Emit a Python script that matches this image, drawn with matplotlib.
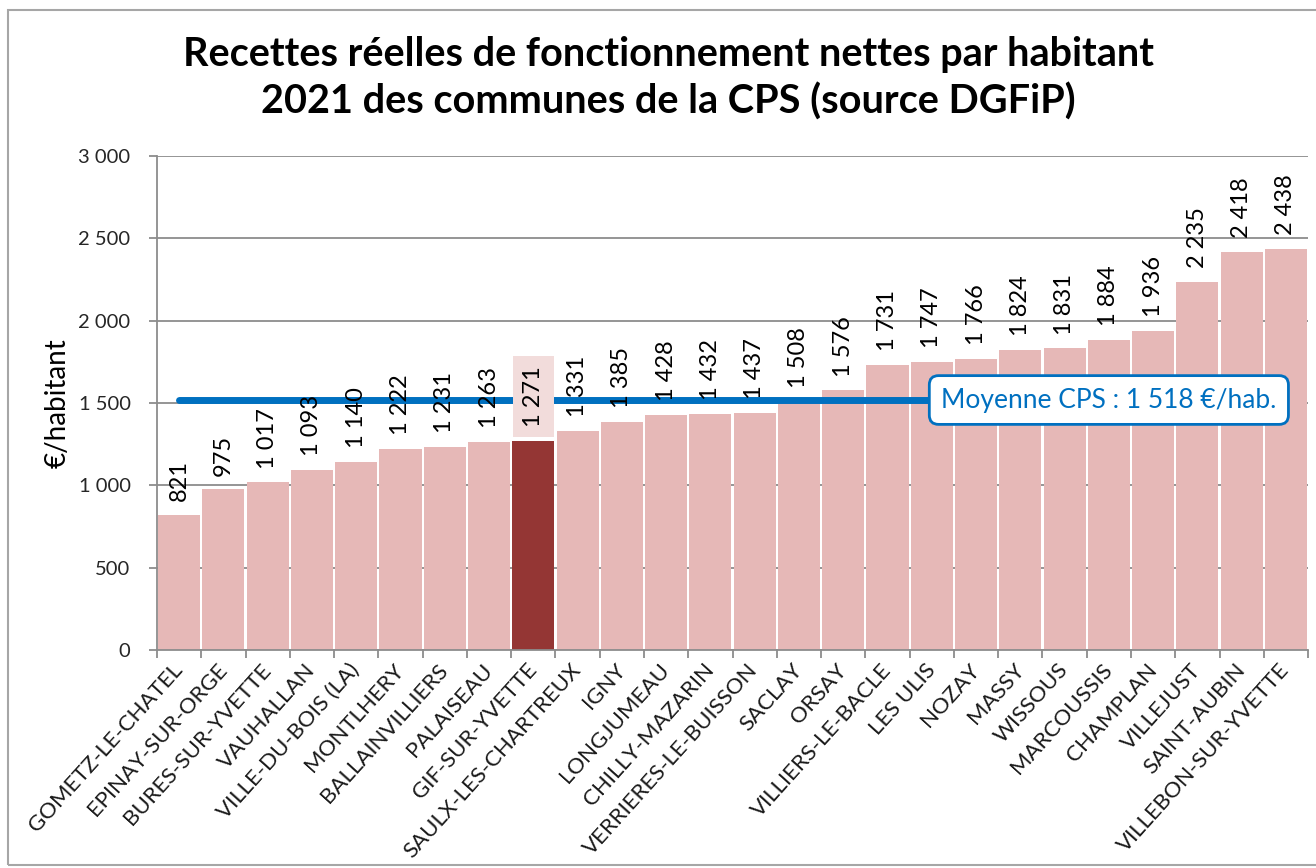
import matplotlib.pyplot as plt
from matplotlib.patches import Rectangle

# data
communes = ['GOMETZ-LE-CHATEL', 'EPINAY-SUR-ORGE', 'BURES-SUR-YVETTE', 'VAUHALLAN',
            'VILLE-DU-BOIS (LA)', 'MONTLHERY', 'BALLAINVILLIERS', 'PALAISEAU',
            'GIF-SUR-YVETTE', 'SAULX-LES-CHARTREUX', 'IGNY', 'LONGJUMEAU',
            'CHILLY-MAZARIN', 'VERRIERES-LE-BUISSON', 'SACLAY', 'ORSAY',
            'VILLIERS-LE-BACLE', 'LES ULIS', 'NOZAY', 'MASSY', 'WISSOUS',
            'MARCOUSSIS', 'CHAMPLAN', 'VILLEJUST', 'SAINT-AUBIN', 'VILLEBON-SUR-YVETTE']
recettes = [821, 975, 1017, 1093, 1140, 1222, 1231, 1263, 1271, 1331, 1385, 1428,
            1432, 1437, 1508, 1576, 1731, 1747, 1766, 1824, 1831, 1884, 1936,
            2235, 2418, 2438]
highlight = 'GIF-SUR-YVETTE'
moyenne = 1518
yticks = [0, 500, 1000, 1500, 2000, 2500, 3000]

plt.rcParams['font.family'] = ['Lato', 'DejaVu Sans']

def fmt(v):
  return '{:,}'.format(v).replace(',', ' ')

fig = plt.figure(figsize=(13.16, 8.68), dpi=100)
ax = fig.add_axes([0.1193, 0.2512, 0.8747, 0.5691])

colors = ['#943634' if c == highlight else '#e6b8b7' for c in communes]
x = list(range(len(communes)))
ax.bar(x, recettes, width=0.95, color=colors, zorder=2)

for xi, v, c in zip(x, recettes, communes):
  bbox = None
  if c == highlight:
    bbox = dict(boxstyle='square,pad=0.42', fc='#f2dcdb', ec='none')
  ax.annotate(fmt(v), (xi, v), xytext=(0, 10), textcoords='offset points',
              rotation=90, ha='center', va='bottom', fontsize=17,
              color='black', bbox=bbox, zorder=4)

# average line and its label
ax.plot([0, 21], [moyenne, moyenne], color='#0070c0', lw=5, zorder=3,
        solid_capstyle='round')
ax.text(21, moyenne, 'Moyenne CPS : ' + fmt(moyenne) + ' €/hab.', ha='center',
        va='center', fontsize=19, color='#0070c0', zorder=5,
        bbox=dict(boxstyle='round,pad=0.45,rounding_size=0.35', fc='white',
                  ec='#0070c0', lw=2))

ax.set_xlim(-0.5, len(communes) - 0.5)
ax.set_ylim(0, 3000)
ax.set_yticks(yticks)
ax.set_yticklabels([fmt(t) for t in yticks], fontsize=14.5, color='#262626')
ax.yaxis.grid(True, color='#8c8c8c', lw=1.3, zorder=0)
ax.set_axisbelow(True)

ax.set_xticks([i - 0.5 for i in range(len(communes) + 1)], minor=False)
ax.set_xticklabels([])
ax.set_xticks(x, minor=True)
ax.set_xticklabels(communes, minor=True, rotation=48, ha='right', va='center',
                   rotation_mode='anchor', fontsize=16, color='#1a1a1a')
ax.tick_params(axis='x', which='minor', length=0, pad=12)
ax.tick_params(axis='x', which='major', length=6, color='#8c8c8c', width=1.3)
ax.tick_params(axis='y', length=6, color='#8c8c8c', width=1.3, pad=13)

for s in ['top', 'right']:
  ax.spines[s].set_visible(False)
for s in ['left', 'bottom']:
  ax.spines[s].set_color('#8c8c8c')
  ax.spines[s].set_linewidth(1.3)

ax.set_ylabel('€/habitant', fontsize=20, labelpad=6)

fig.text(0.508, 0.910, 'Recettes réelles de fonctionnement nettes par habitant\n'
         '2021 des communes de la CPS (source DGFiP)', ha='center', va='center',
         fontsize=28.5, fontweight='bold', linespacing=1.3)

fig.patches.append(Rectangle((0.006, 0.003), 1.0, 0.985, transform=fig.transFigure,
                             fill=False, ec='#a6a6a6', lw=1.5))

fig.savefig('out.png', dpi=100)
